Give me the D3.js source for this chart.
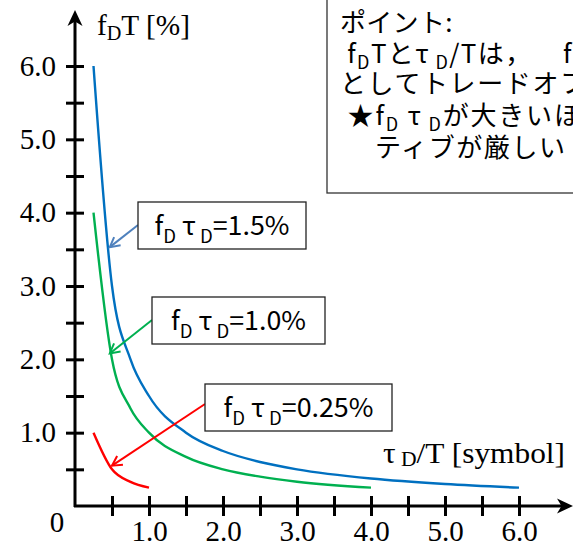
<!DOCTYPE html>
<html>
<head>
<meta charset="utf-8">
<script src="https://cdn.jsdelivr.net/npm/d3@7"></script>
<style>
  html, body { margin: 0; padding: 0; background: #fff; overflow: hidden; }
  svg { display: block; }
</style>
</head>
<body>
<svg id="chart" width="573" height="543"></svg>
<script>
// fDT [%] against τD/T [symbol] for three fDτD products
const products = [1.5, 1.0, 0.25];
const productText = ["1.5%", "1.0%", "0.25%"];

const tauBlue  = [0.25, 0.5, 0.75, 1.0, 1.5, 2.0, 2.5, 3.0, 4.0, 5.0, 6.0];
const fdtBlue  = [6.0, 3.0, 2.0, 1.5, 1.0, 0.75, 0.6, 0.5, 0.375, 0.3, 0.25];
const tauGreen = [0.25, 0.5, 0.75, 1.0, 1.5, 2.0, 2.5, 3.0, 4.0];
const fdtGreen = [4.0, 2.0, 1.33, 1.0, 0.67, 0.5, 0.4, 0.33, 0.25];
const tauRed   = [0.25, 0.5, 0.75, 1.0];
const fdtRed   = [1.0, 0.5, 0.33, 0.25];

const xTickValues = [0.5, 1, 1.5, 2, 2.5, 3, 3.5, 4, 4.5, 5, 5.5, 6];
const yTickValues = [0.5, 1, 1.5, 2, 2.5, 3, 3.5, 4, 4.5, 5, 5.5, 6];

// Arrow tips of the callouts, in data units
const calloutTips = [[0.47, 3.53], [0.47, 2.08], [0.50, 0.55]];

// Note lines; parts are [text, subscript flag, optional absolute x]
const noteLines = [
  [["ポイント:"]],
  [[" f"], ["D", 1], ["Tと"], ["τ"], [" D", 1], ["/Tは，"], ["f", 0, 563], ["D", 1], ["τ"], [" D", 1], ["を一定"]],
  [["としてトレードオフの関係"]],
  [[" ★f"], ["D", 1], [" τ"], [" D", 1], ["が大きいほどオルタナ"]],
  [["　 ティブが厳しい"]]
];

const svg = d3.select("#chart");
const serif = "'Liberation Serif', 'Times New Roman', serif";
const sans = "'Noto Sans CJK JP', 'Noto Sans', sans-serif";

const x = d3.scaleLinear().domain([0, 6]).range([75, 519]);
const y = d3.scaleLinear().domain([0, 6]).range([506, 66]);

// Curves
const series = [
  { tau: tauBlue, fdt: fdtBlue, color: "#0070C0" },
  { tau: tauGreen, fdt: fdtGreen, color: "#00B050" },
  { tau: tauRed, fdt: fdtRed, color: "#FF0000" }
];
const line = d3.line().x(d => x(d[0])).y(d => y(d[1])).curve(d3.curveMonotoneX);
svg.append("g").selectAll("path").data(series).join("path")
  .attr("d", s => line(s.tau.map((t, i) => [t, s.fdt[i]])))
  .attr("fill", "none")
  .attr("stroke", s => s.color)
  .attr("stroke-width", 2.4)
  .attr("stroke-linejoin", "round");

// Axes
const yAxis = d3.axisLeft(y).tickValues(yTickValues)
  .tickFormat(d => Number.isInteger(d) ? d.toFixed(1) : "")
  .tickSize(9).tickPadding(10);
const gy = svg.append("g").attr("transform", "translate(75,0)").call(yAxis);
gy.select(".domain").remove();
gy.selectAll(".tick line").attr("x1", 9).attr("stroke", "#000").attr("stroke-width", 3);
gy.selectAll(".tick text").attr("font-family", serif).attr("font-size", 29).attr("fill", "#000");

const xAxis = d3.axisBottom(x).tickValues(xTickValues)
  .tickFormat(d => Number.isInteger(d) ? d.toFixed(1) : "")
  .tickSize(10).tickPadding(4);
const gx = svg.append("g").attr("transform", "translate(0,506)").call(xAxis);
gx.select(".domain").remove();
gx.selectAll(".tick line").attr("y1", -10).attr("stroke", "#000").attr("stroke-width", 3);
gx.selectAll(".tick text").attr("font-family", serif).attr("font-size", 29).attr("fill", "#000");

// Axis lines with arrowheads
svg.append("path").attr("d", "M75,507 V20 M74,506 H562")
  .attr("stroke", "#000").attr("stroke-width", 3).attr("fill", "none");
svg.append("path").attr("d", "M75,10 L82.5,26 L75,21.5 L67.5,26 Z").attr("fill", "#000");
svg.append("path").attr("d", "M573,506 L557,498.5 L561.5,506 L557,513.5 Z").attr("fill", "#000");

svg.append("text").attr("x", 57).attr("y", 532).attr("text-anchor", "middle")
  .attr("font-family", serif).attr("font-size", 29).text("0");

// Rich text helper: parts are [string, isSubscript, absoluteX]
function rich(sel, parts, subSize, shift) {
  let down = false;
  parts.forEach(([s, sub, ax]) => {
    const t = sel.append("tspan").text(s);
    if (ax !== undefined) t.attr("x", ax);
    if (sub && !down) { t.attr("dy", shift).attr("font-size", subSize); down = true; }
    else if (sub) { t.attr("font-size", subSize); }
    else if (down) { t.attr("dy", -shift); down = false; }
  });
  return sel;
}

// Axis titles
rich(svg.append("text").attr("x", 97).attr("y", 35)
  .attr("font-family", serif).attr("font-size", 29).attr("xml:space", "preserve")
  .attr("textLength", 93).attr("lengthAdjust", "spacingAndGlyphs"),
  [["f"], ["D", 1], ["T [%]"]], 20, 5);
rich(svg.append("text").attr("x", 383).attr("y", 463)
  .attr("font-family", serif).attr("font-size", 29).attr("xml:space", "preserve")
  .attr("textLength", 182).attr("lengthAdjust", "spacingAndGlyphs"),
  [["τ"], [" D", 1], ["/T [symbol]"]], 20, 3);

// Callouts
const boxes = [
  { x0: 138, y0: 202, w: 168, h: 47, tw: 135, color: "#4F81BD" },
  { x0: 152, y0: 297, w: 173, h: 47, tw: 135, color: "#00B050" },
  { x0: 205, y0: 384, w: 187, h: 47, tw: 150, color: "#FF0000" }
];
const arrowStart = [[138, 225], [152, 320], [205, 404]];
products.forEach((p, i) => {
  const b = boxes[i];
  const [sx, sy] = arrowStart[i];
  const tx = x(calloutTips[i][0]), ty = y(calloutTips[i][1]);
  svg.append("line").attr("x1", sx).attr("y1", sy).attr("x2", tx).attr("y2", ty)
    .attr("stroke", b.color).attr("stroke-width", 2);
  const ang = Math.atan2(ty - sy, tx - sx);
  const L = 11, spread = 0.5;
  const p1 = [tx - L * Math.cos(ang - spread), ty - L * Math.sin(ang - spread)];
  const p2 = [tx - L * Math.cos(ang + spread), ty - L * Math.sin(ang + spread)];
  svg.append("path").attr("d", `M${p1}L${tx},${ty}L${p2}`)
    .attr("fill", "none").attr("stroke", b.color).attr("stroke-width", 2);
  svg.append("rect").attr("x", b.x0).attr("y", b.y0).attr("width", b.w).attr("height", b.h)
    .attr("fill", "#fff").attr("stroke", "#222").attr("stroke-width", 1.3);
  rich(svg.append("text").attr("x", b.x0 + (b.w - b.tw) / 2).attr("y", b.y0 + 33)
    .attr("font-family", sans).attr("font-size", 26).attr("xml:space", "preserve")
    .attr("textLength", b.tw).attr("lengthAdjust", "spacingAndGlyphs"),
    [["f"], ["D", 1], [" τ"], [" D", 1], ["=" + productText[i]]], 18, 8);
});

// Note box in the upper right
svg.append("rect").attr("x", 327).attr("y", -3).attr("width", 260).attr("height", 196)
  .attr("fill", "#fff").attr("stroke", "#333").attr("stroke-width", 1.3);
const noteY = [32, 63, 93, 125, 157];
const noteSpacing = [0.3, 1.4, 1.6, 1.8, 1.6];
noteLines.forEach((parts, i) => {
  rich(svg.append("text").attr("x", 340).attr("y", noteY[i])
    .attr("font-family", sans).attr("font-size", 26).attr("letter-spacing", noteSpacing[i])
    .attr("xml:space", "preserve"),
    parts, 18, 6);
});
</script>
</body>
</html>
